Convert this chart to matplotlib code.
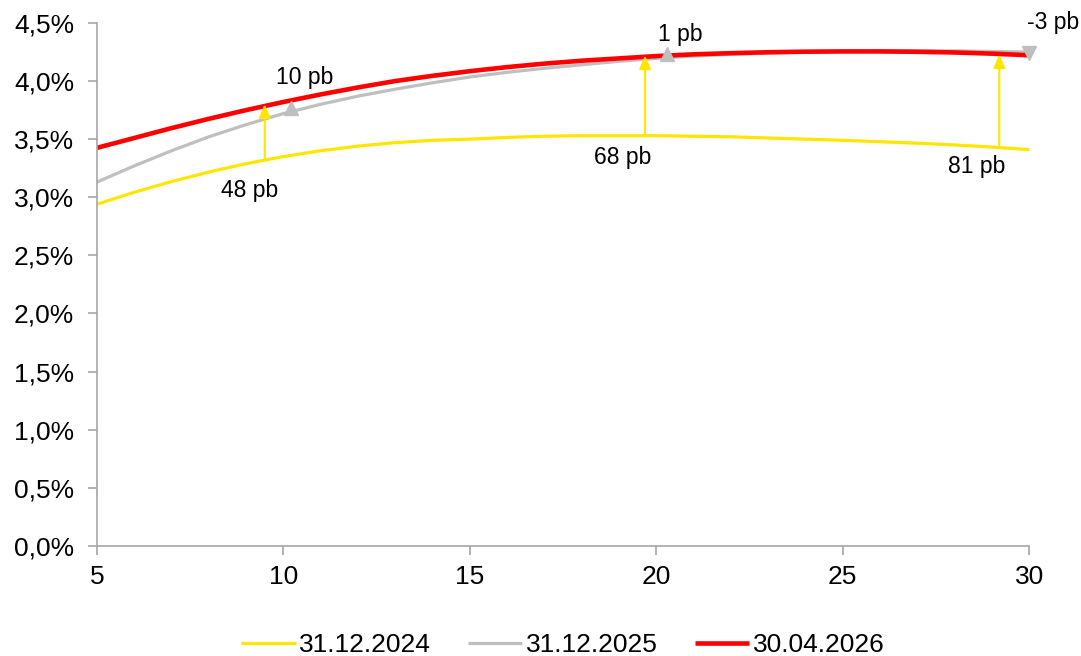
import numpy as np
import matplotlib.pyplot as plt
from matplotlib.ticker import FuncFormatter

# maturities (years) and yields (%)
tenor = list(range(5, 31))
y2024 = [2.94, 3.043, 3.135, 3.217, 3.289, 3.35, 3.40, 3.44, 3.47, 3.49, 3.50, 3.515, 3.525,
         3.53, 3.53, 3.53, 3.525, 3.52, 3.51, 3.50, 3.49, 3.478, 3.465, 3.45, 3.432, 3.41]
y2025 = [3.13, 3.27, 3.40, 3.52, 3.625, 3.72, 3.80, 3.87, 3.93, 3.985, 4.035, 4.075, 4.11,
         4.14, 4.17, 4.195, 4.215, 4.23, 4.24, 4.25, 4.255, 4.26, 4.26, 4.26, 4.255, 4.25]
y2026 = [3.425, 3.51, 3.595, 3.675, 3.75, 3.82, 3.885, 3.945, 4.00, 4.045, 4.085, 4.12, 4.15,
         4.175, 4.195, 4.215, 4.23, 4.24, 4.248, 4.253, 4.255, 4.255, 4.252, 4.246, 4.236, 4.222]

# change since 31.12.2024 (yellow arrows)
arr_x = [9.5, 19.7, 29.2]
arr_from = [3.32, 3.53, 3.43]
arr_to = [3.80, 4.22, 4.23]
arr_lbl = ['48 pb', '68 pb', '81 pb']

# change since 31.12.2025 (grey triangles)
mk_x = [10.2, 20.3, 30.0]
mk_y = [3.77, 4.23, 4.24]
mk_sym = ['^', '^', 'v']
mk_lbl = ['10 pb', '1 pb', '-3 pb']

c_yel = '#FFE600'
c_gry = '#BFBFBF'
c_red = '#FF0000'

plt.rcParams['font.family'] = ['Liberation Sans', 'DejaVu Sans']

fig = plt.figure(figsize=(10.81, 6.56), dpi=100)
ax = fig.add_axes([0.0897, 0.168, 0.8623, 0.797])

ax.plot(tenor, y2024, color=c_yel, lw=2.3, label='31.12.2024', solid_capstyle='butt')
ax.plot(tenor, y2025, color=c_gry, lw=2.3, label='31.12.2025', solid_capstyle='butt')
ax.plot(tenor, y2026, color=c_red, lw=3.3, label='30.04.2026', solid_capstyle='butt')

for x, a, b in zip(arr_x, arr_from, arr_to):
    ax.annotate('', xy=(x, b), xytext=(x, a),
                arrowprops=dict(arrowstyle='-|>,head_width=0.35,head_length=0.8',
                                color=c_yel, lw=1.5, shrinkA=0, shrinkB=0))

for x, y, s in zip(mk_x, mk_y, mk_sym):
    ax.plot(x, y, marker=s, color=c_gry, markersize=10, clip_on=False, zorder=5)

arr_off = [(-11, -22), (-16, -16), (-16, -14)]
for x, a, t, o in zip(arr_x, arr_from, arr_lbl, arr_off):
    ax.annotate(t, xy=(x, a), xytext=o, textcoords='offset points',
                ha='center', va='center', fontsize=16.5)

mk_off = [(10, 22), (9, 14), (17, 22)]
for x, y, t, o in zip(mk_x, mk_y, mk_lbl, mk_off):
    ax.annotate(t, xy=(x, y), xytext=o, textcoords='offset points',
                ha='center', va='center', fontsize=16.5, annotation_clip=False)

ax.set_xlim(5, 30)
ax.set_ylim(0, 4.5)
ax.set_xticks([5, 10, 15, 20, 25, 30])
ax.set_yticks(np.arange(0, 4.51, 0.5))
ax.yaxis.set_major_formatter(FuncFormatter(lambda v, p: f'{v:.1f}%'.replace('.', ',')))

for sp in ['top', 'right']:
    ax.spines[sp].set_visible(False)
for sp in ['left', 'bottom']:
    ax.spines[sp].set_color('#A6A6A6')
    ax.spines[sp].set_linewidth(1.2)
ax.tick_params(direction='out', length=6.5, width=1.2, color='#A6A6A6',
               labelsize=19, labelcolor='black')
ax.tick_params(axis='y', pad=10)
ax.tick_params(axis='x', pad=7)

fig.legend(loc='lower center', ncol=3, frameon=False, fontsize=19,
           bbox_to_anchor=(0.521, -0.038), handlelength=2.05, handletextpad=0.15,
           columnspacing=1.4)

fig.savefig('out.png', dpi=100)
